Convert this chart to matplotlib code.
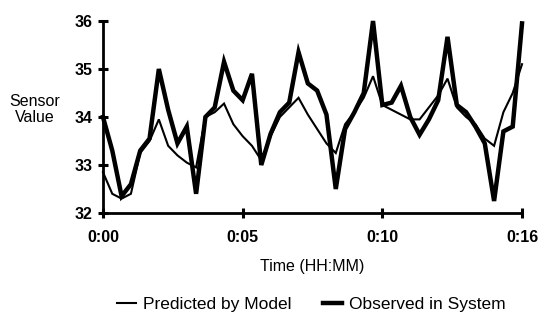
import numpy as np
import matplotlib.pyplot as plt

plt.rcParams["font.family"] = ["Liberation Sans", "DejaVu Sans"]

# sample index along the time axis (46 readings, 0:00 .. 0:16)
tick_pos = [0, 15, 30, 45]
tick_labels = ["0:00", "0:05", "0:10", "0:16"]

predicted = [32.85, 32.4, 32.3, 32.4, 33.25, 33.5, 33.95, 33.4, 33.2, 33.05,
             32.95, 34.0, 34.1, 34.28, 33.85, 33.6, 33.4, 33.1, 33.6, 34.0,
             34.2, 34.4, 34.05, 33.75, 33.45, 33.25, 33.85, 34.1, 34.4, 34.85,
             34.25, 34.15, 34.05, 33.95, 33.95, 34.2, 34.45, 34.8, 34.2, 34.0,
             33.85, 33.55, 33.4, 34.1, 34.5, 35.1]

observed = [34.0, 33.3, 32.35, 32.6, 33.3, 33.55, 35.0, 34.15, 33.45, 33.8,
            32.4, 34.0, 34.2, 35.15, 34.55, 34.35, 34.9, 33.0, 33.65, 34.1,
            34.3, 35.35, 34.7, 34.55, 34.05, 32.5, 33.75, 34.1, 34.5, 36.0,
            34.25, 34.3, 34.65, 34.0, 33.63, 33.95, 34.35, 35.67, 34.25, 34.1,
            33.8, 33.45, 32.25, 33.7, 33.8, 35.95]

x = np.arange(len(observed))

fig = plt.figure(figsize=(5.38, 3.26), dpi=100)
ax = fig.add_axes([0.1914, 0.3466, 0.9703 - 0.1914, 0.9356 - 0.3466])

ax.plot(x, predicted, color="black", lw=1.5, solid_joinstyle="miter",
        label="Predicted by Model", clip_on=False)
ax.plot(x, observed, color="black", lw=3.2, solid_joinstyle="miter",
        label="Observed in System", clip_on=False)

ax.set_xlim(0, len(observed) - 1)
ax.set_ylim(32, 36)
ax.set_yticks([32, 33, 34, 35, 36])
ax.set_xticks(tick_pos)
ax.set_xticklabels(tick_labels)

for side in ["top", "right"]:
    ax.spines[side].set_visible(False)
for side in ["left", "bottom"]:
    ax.spines[side].set_linewidth(2.0)

ax.tick_params(axis="both", direction="inout", length=7, width=2.2,
               labelsize=11.5)
ax.tick_params(axis="x", pad=9)
ax.tick_params(axis="y", pad=4)
for lab in ax.get_xticklabels() + ax.get_yticklabels():
    lab.set_fontweight("bold")

ax.set_xlabel("Time (HH:MM)", fontsize=11.5, va="center")
ax.xaxis.set_label_coords(0.5, -0.281)
ax.set_ylabel("Sensor\nValue", fontsize=11.5, rotation=0, va="center",
              ha="center", linespacing=1.1)
ax.yaxis.set_label_coords(-0.162, 0.54)

fig.legend(loc="center", bbox_to_anchor=(0.579, 0.067), ncol=2,
           frameon=False, fontsize=12.5, handlelength=1.1,
           handletextpad=0.4, columnspacing=1.8)

fig.savefig("out.png", dpi=100)
